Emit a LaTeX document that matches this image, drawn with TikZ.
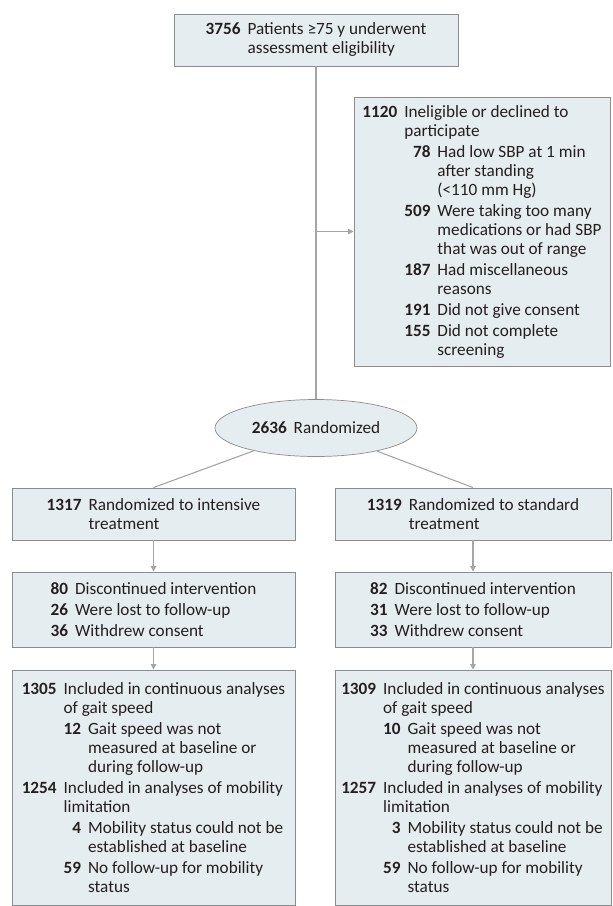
\documentclass[tikz,border=0pt]{standalone}
\usepackage{fontspec}
\setmainfont{Carlito}
\usetikzlibrary{shapes.geometric,arrows.meta}
\definecolor{boxfill}{RGB}{230,237,241}
\definecolor{boxline}{RGB}{140,140,140}
\definecolor{conline}{RGB}{165,165,165}
\definecolor{txt}{RGB}{35,31,32}
\newcommand\bodyfont{\fontsize{17.2}{19}\selectfont}
\newcommand\nr[3]{\hphantom{\textbf{#1}}\llap{\textbf{#2}}\hspace{7pt}#3}
\tikzset{
  box/.style={draw=boxline, fill=boxfill, line width=0.9pt, rectangle, inner sep=0pt,
              align=left, font=\bodyfont, text=txt},
  conn/.style={draw=conline, line width=1.1pt},
  arr/.style={conn, -{Triangle[width=5.5pt,length=5.5pt]}},
}
\begin{document}
\begin{tikzpicture}[x=1pt,y=-1pt]
\useasboundingbox (0,0) rectangle (613,906);

\node[box, minimum width=284pt, minimum height=52pt] (top) at (316,40)
  {\nr{3756}{3756}{Patients ≥75 y underwent}\\
   \nr{3756}{}{assessment eligibility}};

\node[box, minimum width=256pt, minimum height=269pt] (excl) at (482,231.5)
  {\nr{1120}{1120}{Ineligible or declined to}\\
   \nr{1120}{}{participate}\\[2pt]
   \nr{1120}{}{\nr{000}{78}{Had low SBP at 1 min}}\\
   \nr{1120}{}{\nr{000}{}{after standing}}\\
   \nr{1120}{}{\nr{000}{}{(<110 mm Hg)}}\\[2pt]
   \nr{1120}{}{\nr{000}{509}{Were taking too many}}\\
   \nr{1120}{}{\nr{000}{}{medications or had SBP}}\\
   \nr{1120}{}{\nr{000}{}{that was out of range}}\\[2pt]
   \nr{1120}{}{\nr{000}{187}{Had miscellaneous}}\\
   \nr{1120}{}{\nr{000}{}{reasons}}\\[2pt]
   \nr{1120}{}{\nr{000}{191}{Did not give consent}}\\[2pt]
   \nr{1120}{}{\nr{000}{155}{Did not complete}}\\
   \nr{1120}{}{\nr{000}{}{screening}}};

\node[draw=boxline, fill=boxfill, line width=0.7pt, ellipse, inner sep=0pt,
      minimum width=202pt, minimum height=57pt, font=\bodyfont, text=txt] (rand) at (316,428)
  {\textbf{2636}\hspace{7pt}Randomized};

\node[box, minimum width=283pt, minimum height=52pt] (l1) at (153.5,514)
  {\nr{1317}{1317}{Randomized to intensive}\\
   \nr{1317}{}{treatment}};
\node[box, minimum width=276pt, minimum height=52pt] (r1) at (473,514)
  {\nr{1319}{1319}{Randomized to standard}\\
   \nr{1319}{}{treatment}};

\node[box, minimum width=283pt, minimum height=75pt] (l2) at (153.5,609.5)
  {\nr{00}{80}{Discontinued intervention}\\[2pt]
   \nr{00}{26}{Were lost to follow-up}\\[2pt]
   \nr{00}{36}{Withdrew consent}};
\node[box, minimum width=276pt, minimum height=75pt] (r2) at (473,609.5)
  {\nr{00}{82}{Discontinued intervention}\\[2pt]
   \nr{00}{31}{Were lost to follow-up}\\[2pt]
   \nr{00}{33}{Withdrew consent}};

\node[box, minimum width=283pt, minimum height=235pt] (l3) at (153.5,787.5)
  {\nr{1305}{1305}{Included in continuous analyses}\\
   \nr{1305}{}{of gait speed}\\[2pt]
   \nr{1305}{}{\nr{00}{12}{Gait speed was not}}\\
   \nr{1305}{}{\nr{00}{}{measured at baseline or}}\\
   \nr{1305}{}{\nr{00}{}{during follow-up}}\\[2pt]
   \nr{1305}{1254}{Included in analyses of mobility}\\
   \nr{1305}{}{limitation}\\[2pt]
   \nr{1305}{}{\nr{00}{4}{Mobility status could not be}}\\
   \nr{1305}{}{\nr{00}{}{established at baseline}}\\[2pt]
   \nr{1305}{}{\nr{00}{59}{No follow-up for mobility}}\\
   \nr{1305}{}{\nr{00}{}{status}}};
\node[box, minimum width=276pt, minimum height=235pt] (r3) at (473,787.5)
  {\nr{1309}{1309}{Included in continuous analyses}\\
   \nr{1309}{}{of gait speed}\\[2pt]
   \nr{1309}{}{\nr{00}{10}{Gait speed was not}}\\
   \nr{1309}{}{\nr{00}{}{measured at baseline or}}\\
   \nr{1309}{}{\nr{00}{}{during follow-up}}\\[2pt]
   \nr{1309}{1257}{Included in analyses of mobility}\\
   \nr{1309}{}{limitation}\\[2pt]
   \nr{1309}{}{\nr{00}{3}{Mobility status could not be}}\\
   \nr{1309}{}{\nr{00}{}{established at baseline}}\\[2pt]
   \nr{1309}{}{\nr{00}{59}{No follow-up for mobility}}\\
   \nr{1309}{}{\nr{00}{}{status}}};

\coordinate (tap) at (top.south |- excl.west);
\draw[conn] (top.south) -- (rand.north);
\draw[arr] (tap) -- (excl.west);
\draw[conn] (rand) -- (l1.north);
\draw[conn] (rand) -- (r1.north);
\draw[arr] (l1.south) -- (l2.north);
\draw[arr] (r1.south) -- (r2.north);
\draw[arr] (l2.south) -- (l3.north);
\draw[arr] (r2.south) -- (r3.north);
\end{tikzpicture}
\end{document}
